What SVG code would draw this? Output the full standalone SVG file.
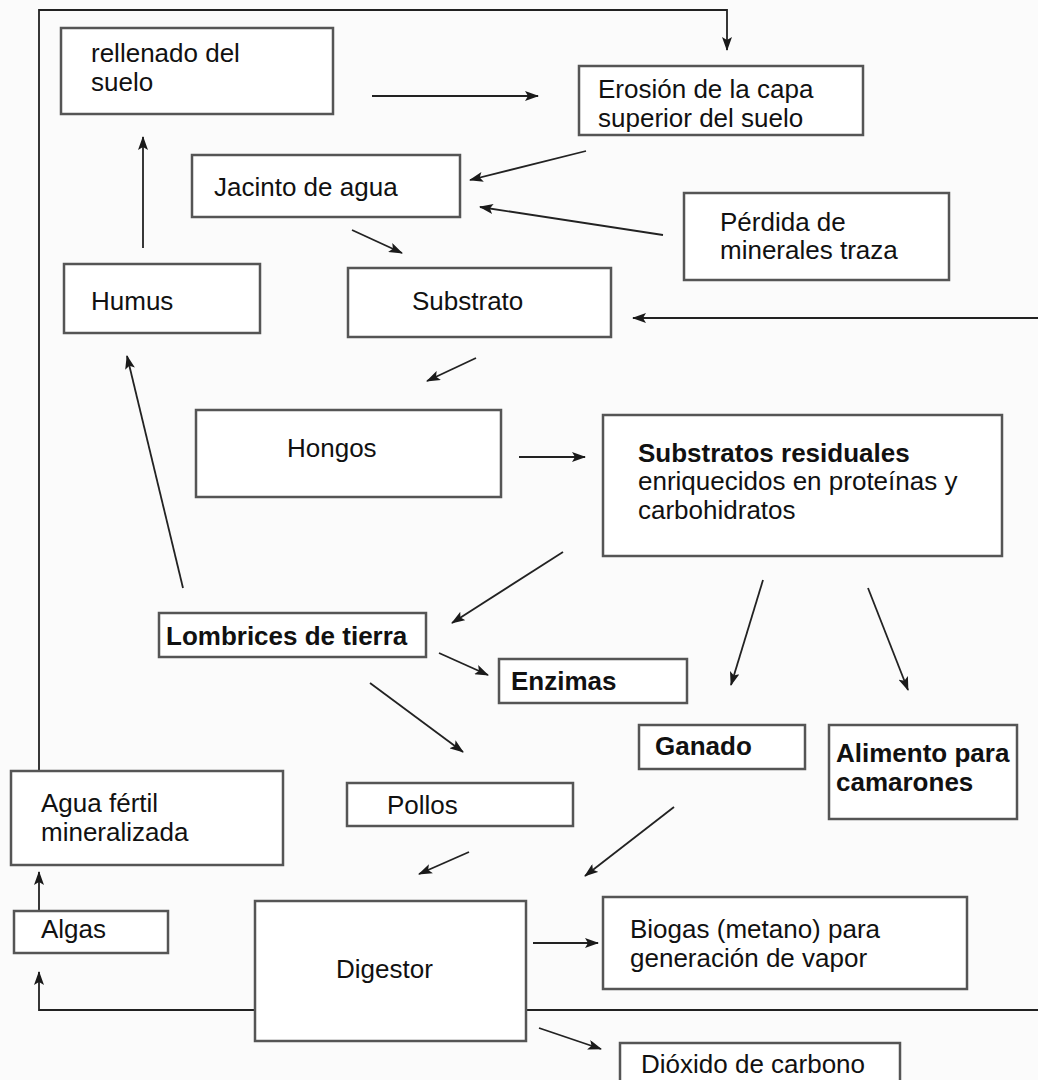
<svg xmlns="http://www.w3.org/2000/svg" width="1038" height="1080" viewBox="0 0 1038 1080">
<defs>
<marker id="ah" viewBox="0 0 14 10" refX="13" refY="5" markerWidth="14" markerHeight="10" markerUnits="userSpaceOnUse" orient="auto">
<path d="M0,0 L14,5 L0,10 L3,5 z" fill="#1a1a1a"/>
</marker>
<style>
.box{fill:#ffffff;stroke:#555;stroke-width:2.5}
.t{font-family:"Liberation Sans",Arial,sans-serif;font-size:26px;fill:#111}
.b{font-weight:bold}
.c{fill:none;stroke:#222;stroke-width:1.8}
.a{marker-end:url(#ah)}
</style>
</defs>
<rect width="1038" height="1080" fill="#fbfbfb"/>
<g id="connectors">
<polyline class="c a" points="39,771 39,10 727,10 727,50"/>
<line class="c a" x1="372" y1="96" x2="538" y2="96"/>
<line class="c a" x1="586" y1="151" x2="470" y2="180"/>
<line class="c a" x1="663" y1="235" x2="480" y2="207"/>
<line class="c a" x1="352" y1="230" x2="402" y2="253"/>
<line class="c a" x1="143" y1="248" x2="143" y2="137"/>
<line class="c a" x1="1038" y1="318" x2="633" y2="318"/>
<line class="c a" x1="476" y1="358" x2="427" y2="381"/>
<line class="c a" x1="183" y1="588" x2="127" y2="356"/>
<line class="c a" x1="519" y1="457" x2="585" y2="457"/>
<line class="c a" x1="563" y1="552" x2="452" y2="623"/>
<line class="c a" x1="763" y1="580" x2="731" y2="685"/>
<line class="c a" x1="868" y1="588" x2="908" y2="690"/>
<line class="c a" x1="439" y1="653" x2="488" y2="675"/>
<line class="c a" x1="370" y1="683" x2="463" y2="752"/>
<line class="c a" x1="469" y1="852" x2="419" y2="874"/>
<line class="c a" x1="674" y1="807" x2="585" y2="876"/>
<line class="c a" x1="533" y1="943" x2="598" y2="943"/>
<line class="c a" x1="539" y1="1028" x2="601" y2="1049"/>
<line class="c" x1="526" y1="1010" x2="1038" y2="1010"/>
<polyline class="c a" points="255,1010 39,1010 39,972"/>
<line class="c a" x1="39" y1="911" x2="39" y2="872"/>
</g>
<g id="rellenado"><rect class="box" x="61" y="28" width="272" height="86"/><text class="t" x="91" y="62">rellenado del</text><text class="t" x="91" y="91">suelo</text></g>
<g id="erosion"><rect class="box" x="579" y="66" width="284" height="69"/><text class="t" x="598" y="98">Erosión de la capa</text><text class="t" x="598" y="127">superior del suelo</text></g>
<g id="jacinto"><rect class="box" x="192" y="155" width="268" height="62"/><text class="t" x="214" y="196">Jacinto de agua</text></g>
<g id="perdida"><rect class="box" x="684" y="193" width="265" height="87"/><text class="t" x="720" y="231">Pérdida de</text><text class="t" x="720" y="259">minerales traza</text></g>
<g id="humus"><rect class="box" x="64" y="264" width="196" height="69"/><text class="t" x="91" y="310">Humus</text></g>
<g id="substrato"><rect class="box" x="348" y="268" width="263" height="69"/><text class="t" x="412" y="310">Substrato</text></g>
<g id="hongos"><rect class="box" x="196" y="410" width="305" height="87"/><text class="t" x="287" y="457">Hongos</text></g>
<g id="substratos-residuales"><rect class="box" x="603" y="415" width="399" height="141"/><text class="t b" x="638" y="462">Substratos residuales</text><text class="t" x="638" y="490">enriquecidos en proteínas y</text><text class="t" x="638" y="519">carbohidratos</text></g>
<g id="lombrices"><rect class="box" x="159" y="613" width="267" height="44"/><text class="t b" x="166" y="645">Lombrices de tierra</text></g>
<g id="enzimas"><rect class="box" x="499" y="659" width="188" height="44"/><text class="t b" x="511" y="690">Enzimas</text></g>
<g id="ganado"><rect class="box" x="639" y="725" width="166" height="44"/><text class="t b" x="655" y="755">Ganado</text></g>
<g id="alimento"><rect class="box" x="829" y="725" width="188" height="94"/><text class="t b" x="836" y="762">Alimento para</text><text class="t b" x="836" y="791">camarones</text></g>
<g id="agua"><rect class="box" x="11" y="771" width="272" height="94"/><text class="t" x="41" y="812">Agua fértil</text><text class="t" x="41" y="841">mineralizada</text></g>
<g id="pollos"><rect class="box" x="347" y="783" width="226" height="43"/><text class="t" x="387" y="814">Pollos</text></g>
<g id="algas"><rect class="box" x="14" y="911" width="154" height="42"/><text class="t" x="41" y="938">Algas</text></g>
<g id="digestor"><rect class="box" x="255" y="901" width="271" height="140"/><text class="t" x="336" y="978">Digestor</text></g>
<g id="biogas"><rect class="box" x="603" y="897" width="364" height="92"/><text class="t" x="630" y="938">Biogas (metano) para</text><text class="t" x="630" y="967">generación de vapor</text></g>
<g id="dioxido"><rect class="box" x="620" y="1043" width="280" height="50"/><text class="t" x="641" y="1073">Dióxido de carbono</text></g>
</svg>
